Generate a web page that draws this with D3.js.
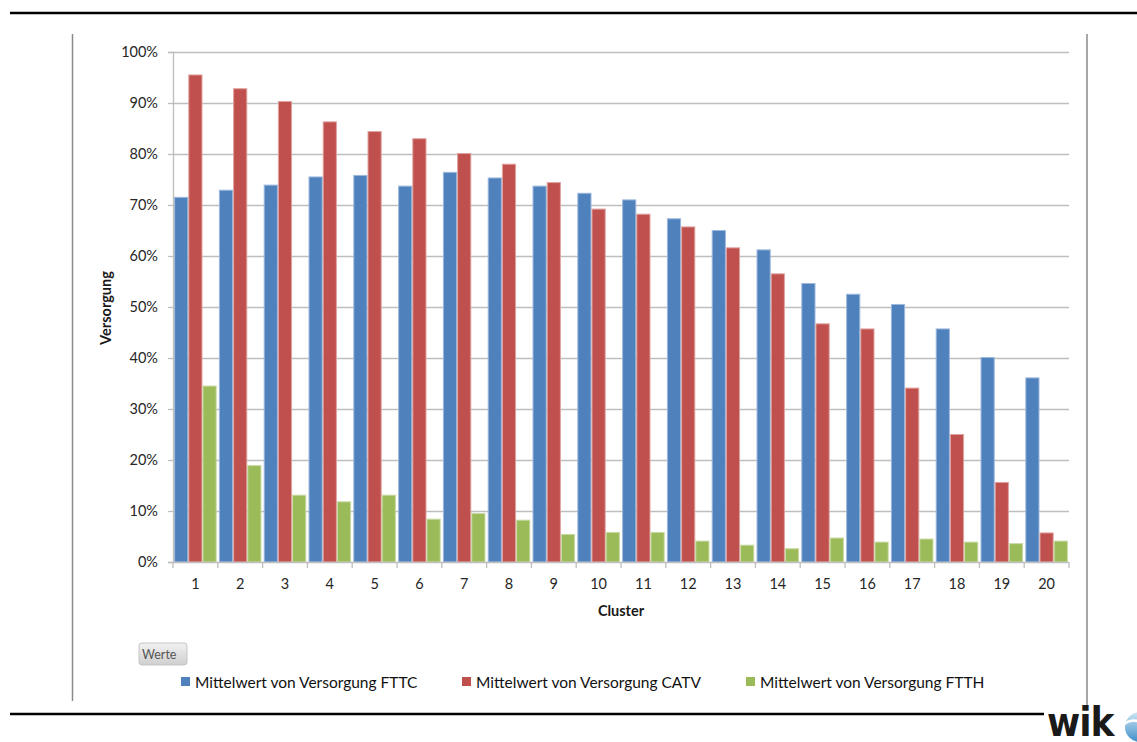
<!DOCTYPE html>
<html>
<head>
<meta charset="utf-8">
<script src="https://cdn.jsdelivr.net/npm/d3@7"></script>
<style>
  html, body { margin: 0; padding: 0; background: #fff; }
  svg { display: block; }
</style>
</head>
<body>
<svg id="chart" width="1137" height="742"></svg>
<script>
const clusters = ["1","2","3","4","5","6","7","8","9","10","11","12","13","14","15","16","17","18","19","20"];
const seriesNames = ["Mittelwert von Versorgung FTTC", "Mittelwert von Versorgung CATV", "Mittelwert von Versorgung FTTH"];
const fttc = [71.5, 72.9, 73.9, 75.5, 75.8, 73.7, 76.4, 75.3, 73.7, 72.3, 71.0, 67.3, 65.0, 61.2, 54.6, 52.5, 50.5, 45.7, 40.1, 36.1];
const catv = [95.5, 92.8, 90.3, 86.3, 84.4, 83.0, 80.1, 78.0, 74.4, 69.2, 68.2, 65.7, 61.6, 56.5, 46.7, 45.7, 34.1, 25.0, 15.6, 5.7];
const ftth = [34.5, 18.9, 13.1, 11.8, 13.1, 8.4, 9.5, 8.2, 5.4, 5.8, 5.8, 4.1, 3.3, 2.6, 4.7, 3.9, 4.5, 3.9, 3.6, 4.1];
const yTicks = [0, 10, 20, 30, 40, 50, 60, 70, 80, 90, 100];
const colors = ["#4F81BD", "#C0504D", "#9BBB59"];
const edgeColors = ["#9DB8DD", "#DFA3A1", "#C8DAA3"];

(function () {
const svg = d3.select("#chart");
const font = "Lato, 'Open Sans', 'DejaVu Sans', sans-serif";

// frame lines
svg.append("line").attr("x1", 10).attr("x2", 1137).attr("y1", 13).attr("y2", 13)
  .attr("stroke", "#000").attr("stroke-width", 2.5);
svg.append("line").attr("x1", 10).attr("x2", 1044).attr("y1", 714).attr("y2", 714)
  .attr("stroke", "#000").attr("stroke-width", 2.5);
svg.append("line").attr("x1", 72.5).attr("x2", 72.5).attr("y1", 34).attr("y2", 701)
  .attr("stroke", "#8a8a8a").attr("stroke-width", 1.5);
svg.append("line").attr("x1", 1087).attr("x2", 1087).attr("y1", 34).attr("y2", 706)
  .attr("stroke", "#8a8a8a").attr("stroke-width", 1.5);

const pLeft = 173, pRight = 1069, pTop = 52, pBottom = 562;

const x0 = d3.scaleBand().domain(clusters).range([pLeft, pRight]).paddingInner(0.05).paddingOuter(0.025);
const x1 = d3.scaleBand().domain([0, 1, 2]).range([0, x0.bandwidth()]);
const y = d3.scaleLinear().domain([0, 100]).range([pBottom, pTop]);

// gridlines
svg.append("g").selectAll("line").data(yTicks.filter(d => d > 0)).join("line")
  .attr("x1", pLeft).attr("x2", pRight)
  .attr("y1", d => y(d) + 0.5).attr("y2", d => y(d) + 0.5)
  .attr("stroke", "#BEBEBE").attr("stroke-width", 1.3);

// y axis
const yAxis = svg.append("g").attr("transform", `translate(${pLeft},0)`)
  .call(d3.axisLeft(y).tickValues(yTicks).tickSize(5).tickPadding(10).tickFormat(d => d + "%"));
yAxis.select(".domain").attr("stroke", "#BEBEBE").attr("stroke-width", 1.3);
yAxis.selectAll(".tick line").attr("stroke", "#BEBEBE").attr("stroke-width", 1.3);
yAxis.selectAll(".tick text").attr("font-family", font).attr("font-size", 14.5).attr("fill", "#262626");

// bars
const data = clusters.map((c, i) => ({ c, v: [fttc[i], catv[i], ftth[i]] }));
const groups = svg.append("g").selectAll("g").data(data).join("g")
  .attr("transform", d => `translate(${x0(d.c)},0)`);
groups.selectAll("rect").data(d => d.v.map((v, k) => ({ v, k }))).join("rect")
  .attr("x", d => x1(d.k) + 0.5)
  .attr("width", x1.bandwidth() - 1)
  .attr("y", d => y(d.v))
  .attr("height", d => pBottom - y(d.v))
  .attr("fill", d => colors[d.k])
  .attr("stroke", d => edgeColors[d.k]).attr("stroke-width", 1);

// x axis
const xAxisG = svg.append("g").attr("transform", `translate(0,${pBottom})`);
xAxisG.append("line").attr("x1", pLeft).attr("x2", pRight).attr("y1", 0.5).attr("y2", 0.5)
  .attr("stroke", "#BEBEBE").attr("stroke-width", 1.3);
const bounds = d3.range(clusters.length + 1).map(i => pLeft + i * (pRight - pLeft) / clusters.length);
xAxisG.selectAll("line.tk").data(bounds).join("line").attr("class", "tk")
  .attr("x1", d => d).attr("x2", d => d).attr("y1", 0).attr("y2", 6)
  .attr("stroke", "#BEBEBE").attr("stroke-width", 1.3);
xAxisG.selectAll("text").data(clusters).join("text")
  .attr("x", d => x0(d) + x0.bandwidth() / 2).attr("y", 27)
  .attr("text-anchor", "middle").attr("font-family", font).attr("font-size", 14.5).attr("fill", "#262626")
  .text(d => d);

// axis titles
svg.append("text").attr("x", 621).attr("y", 616).attr("text-anchor", "middle")
  .attr("font-family", font).attr("font-size", 14.5).attr("font-weight", "bold").attr("fill", "#1a1a1a")
  .text("Cluster");
svg.append("text").attr("transform", "translate(111,308) rotate(-90)").attr("text-anchor", "middle")
  .attr("font-family", font).attr("font-size", 14.5).attr("font-weight", "bold").attr("fill", "#1a1a1a")
  .text("Versorgung");

// Werte button
const defs = svg.append("defs");
const grad = defs.append("linearGradient").attr("id", "btn").attr("x1", 0).attr("x2", 0).attr("y1", 0).attr("y2", 1);
grad.append("stop").attr("offset", "0%").attr("stop-color", "#f2f2f2");
grad.append("stop").attr("offset", "100%").attr("stop-color", "#cfcfcf");
svg.append("rect").attr("x", 139).attr("y", 643).attr("width", 48).attr("height", 22).attr("rx", 3)
  .attr("fill", "url(#btn)").attr("stroke", "#c4c4c4");
svg.append("text").attr("x", 142).attr("y", 659).attr("font-family", font).attr("font-size", 12.5)
  .attr("fill", "#555").text("Werte");

// legend
const legendX = [181, 462, 746];
const lg = svg.append("g").selectAll("g").data(seriesNames).join("g")
  .attr("transform", (d, i) => `translate(${legendX[i]},677)`);
lg.append("rect").attr("width", 9).attr("height", 9).attr("fill", (d, i) => colors[i]);
lg.append("text").attr("x", 14).attr("y", 10.5).attr("font-family", font).attr("font-size", 15.5)
  .attr("fill", "#111").text(d => d);

// logo
svg.append("text").attr("x", 1047).attr("y", 736).attr("font-family", "'Liberation Sans Narrow', 'DejaVu Sans Condensed', sans-serif")
  .attr("font-size", 40).attr("font-weight", "bold").attr("fill", "#1a1a1a").attr("letter-spacing", -1).text("wik");
const lgGrad = defs.append("linearGradient").attr("id", "logo").attr("x1", 0).attr("x2", 0).attr("y1", 0).attr("y2", 1);
lgGrad.append("stop").attr("offset", "0%").attr("stop-color", "#cfe6f5");
lgGrad.append("stop").attr("offset", "100%").attr("stop-color", "#3f8fc9");
svg.append("circle").attr("cx", 1140).attr("cy", 727).attr("r", 15).attr("fill", "url(#logo)");
svg.append("path").attr("d", "M1124,724 Q1132,718 1140,722").attr("stroke", "#fff").attr("stroke-width", 2.5).attr("fill", "none");
})();
</script>
</body>
</html>
